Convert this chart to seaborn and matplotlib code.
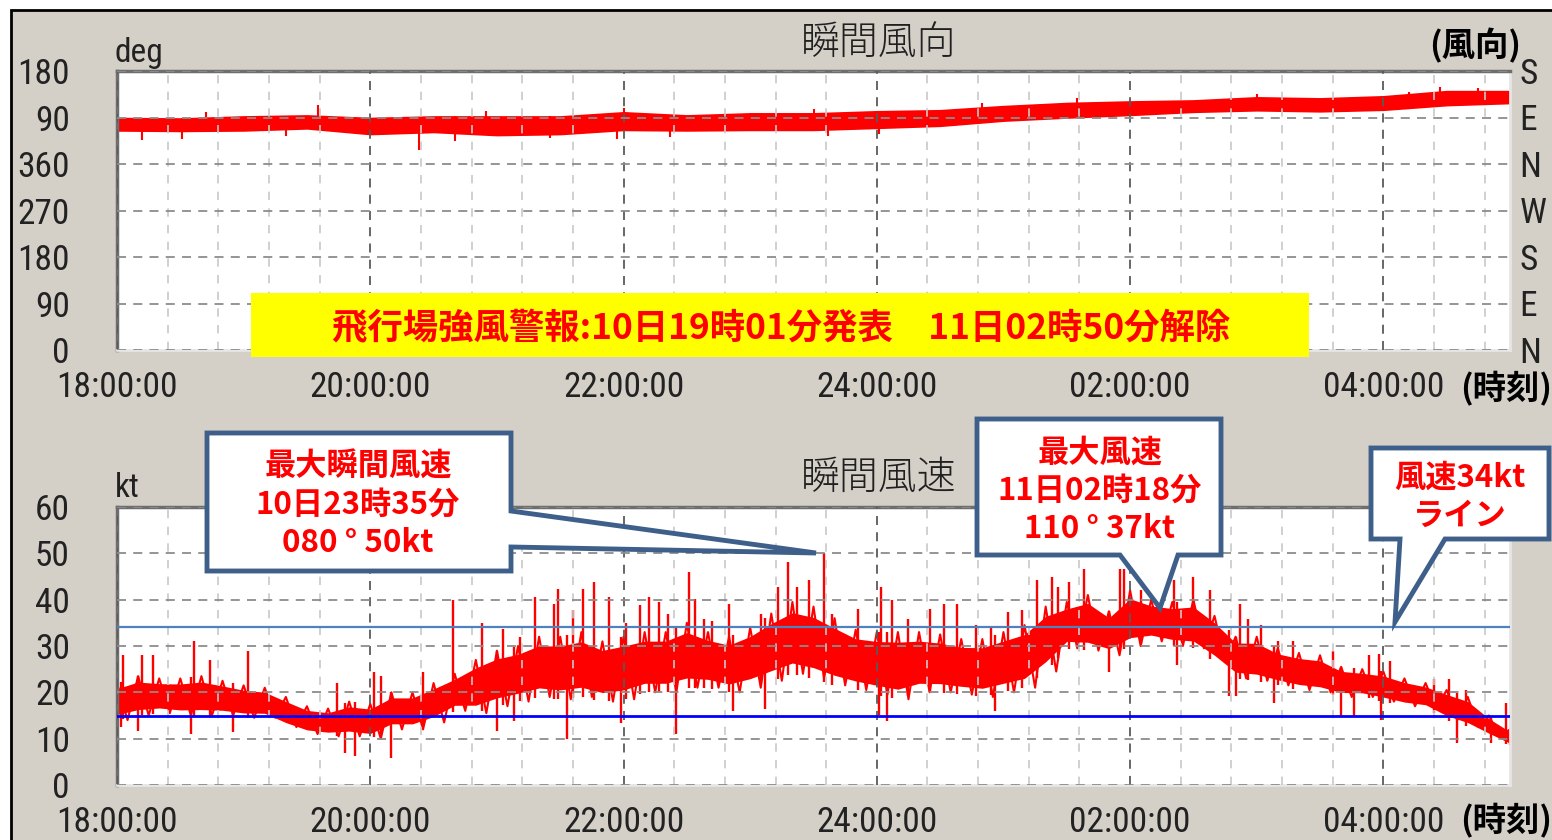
import numpy as np
import pandas as pd
import matplotlib
matplotlib.use("Agg")
import matplotlib.pyplot as plt
import seaborn as sns
from matplotlib import font_manager
from matplotlib.patches import Rectangle, Polygon

# --- data (minutes after 18:00) ---
t_grid = list(range(0, 661, 10))
speed_hi = [22, 23.5, 23, 23, 23.5, 22.5, 21.5, 21, 19, 17, 16.5, 18, 17.5, 20, 20, 22, 24,
            27, 29, 30, 32, 32, 33, 31, 32, 33, 33, 35, 33, 32, 34, 37, 39.5, 38.5,
            36, 33.5, 33, 33, 33, 32.5, 31.5, 31.5, 33, 34.5, 38.5, 39.5, 41, 37.5, 42, 40, 39.5,
            40, 36.5, 32, 32, 29.5, 28.5, 28, 25.5, 25, 24.5, 23, 22, 20.5, 19, 15, 12]
speed_lo = [14, 15, 15.5, 15, 15, 15, 14.5, 14.5, 12.5, 11, 10.5, 10.5, 10, 12, 12, 13.5, 16,
            15.5, 17, 18, 19, 18.5, 19, 18, 18.5, 20, 20, 21, 21, 20, 21, 22.5, 24, 23,
            21.5, 20.5, 19.5, 18.5, 20, 20, 19.5, 19, 20, 21, 24.5, 29.5, 29, 28, 30, 31, 30,
            29.5, 26.5, 23, 22.5, 21.5, 20.5, 20, 19, 19, 18, 17, 16.5, 14, 12.5, 10.5, 8.5]
gust_t = [3, 12, 17, 36.5, 44, 62, 104, 122, 125, 145, 159, 173, 183, 191, 198, 207, 209, 216,
          221, 226, 233, 241, 248, 252, 257, 261, 271, 274, 278, 282, 290, 305, 313, 318, 322,
          328, 335, 339, 351, 362, 367, 375, 385, 392, 398, 407, 414, 422, 429, 436, 443, 446,
          451, 458, 475, 477, 485, 501, 510, 518, 532, 536, 542, 550, 557, 576, 593, 598, 603,
          624, 631, 639, 658]
gust_v = [28, 28, 28, 31, 27, 29, 22, 24.3, 23.5, 24.3, 40, 35, 33.7, 32, 40.6, 39, 42.4, 37.7,
          42.4, 43.8, 40.6, 35, 38.8, 40.6, 39.5, 37, 46, 40.2, 35.9, 35.5, 39, 37, 42.8, 48.2,
          42.8, 44.2, 50, 37, 38, 42.8, 39.9, 35.9, 38, 39, 39, 34.5, 34.4, 37.3, 37.7, 44.2, 45,
          42.8, 43.8, 46.7, 46.7, 46.7, 42, 44.2, 45, 42, 39, 35.9, 34.5, 31, 31, 29, 28, 28.2,
          26.8, 22.8, 22.8, 20.6, 17.8]
lull_t = [2, 10, 35, 55, 108, 113, 130, 180, 188, 213, 239, 265, 292, 307, 361, 365, 416, 470,
          502, 527, 530, 548, 580, 586, 599, 635, 651, 660]
lull_v = [12.5, 11.6, 11, 11.5, 7, 6.2, 5.8, 11.6, 13.8, 10, 13.4, 10.9, 16, 16.5, 15.2, 13.8,
          16, 24.3, 26, 19.2, 19.2, 17.8, 14.9, 14.9, 14, 9, 9, 8.7]

dir_t = list(range(0, 661, 30))
dir_hi = [89, 88, 92, 94, 89, 92, 92, 92, 100, 94, 98, 98, 102, 104, 112, 118, 121, 123, 129,
          127, 131, 141, 141]
dir_lo = [65, 64, 65, 69, 58, 62, 56, 58, 66, 65, 66, 66, 70, 74, 84, 90, 95, 101, 104, 102,
          105, 114, 118]
dir_dn_t = [12, 31, 80, 143, 160, 205, 237, 262, 337, 361]
dir_dn_v = [47, 48, 55, 27, 44, 50, 48, 52, 55, 58]
dir_up_t = [42, 95, 175, 240, 330, 410, 455, 540, 612, 627, 645]
dir_up_v = [100, 114, 102, 108, 106, 118, 127, 136, 140, 150, 148]

speed_ticks = [0, 10, 20, 30, 40, 50, 60]
dir_ticks = [0, 90, 180, 270, 360, 450, 540]
dir_tick_labels = ["0", "90", "180", "270", "360", "90", "180"]
compass_labels = ["N", "E", "S", "W", "N", "E", "S"]
time_ticks = [0, 120, 240, 360, 480, 600]
time_labels = ["18:00:00", "20:00:00", "22:00:00", "24:00:00", "02:00:00", "04:00:00"]
line_34 = 34
line_15 = 15
dir_wrap = 360  # directions drawn on the upper lap of the 0-540 scale

# --- style ---
sns.set_style("white")
ttf = font_manager.fontManager.ttflist
names = {f.name for f in ttf}
tick_font, tick_size, tick_stretch = "DejaVu Sans", 20, "normal"
for cand in ("Liberation Sans Narrow", "Roboto Condensed", "Open Sans Condensed"):
    if cand in names:
        tick_font, tick_size = cand, 25.5
        break
else:
    if any(f.name == "DejaVu Sans" and "Condensed" in f.fname and "Bold" not in f.fname
           and "Oblique" not in f.fname for f in ttf):
        tick_size, tick_stretch = 23, "condensed"
plt.rcParams["font.family"] = [tick_font, "Noto Sans CJK JP", "DejaVu Sans"]
plt.rcParams["font.stretch"] = tick_stretch
CJK = ["Noto Sans CJK JP", "DejaVu Sans"]

W, H = 1552, 840
BG = "#d4d0c8"
RED = "#ff0000"
fig = plt.figure(figsize=(W / 100, H / 100), dpi=100, facecolor="white")
fig.add_artist(Rectangle((11 / W, -0.05), 1.1, 1.05 - 10 / H, transform=fig.transFigure,
                         facecolor=BG, edgecolor="black", lw=2, zorder=-10))


def px_axes(left, top, right, bottom):
    return fig.add_axes([left / W, 1 - bottom / H, (right - left) / W, (bottom - top) / H])


def fx(x):
    return x / W


def fy(y):
    return 1 - y / H


def style_axes(ax, yticks, ylabels):
    ax.set_facecolor("white")
    ax.set_xlim(0, 660)
    ax.set_ylim(yticks[0], yticks[-1])
    ax.set_xticks(time_ticks)
    ax.set_xticklabels(time_labels)
    ax.set_xticks([m for m in range(0, 661, 24) if m % 120], minor=True)
    ax.set_yticks(yticks)
    ax.set_yticklabels(ylabels)
    ax.set_axisbelow(False)
    ax.grid(axis="y", which="major", color="#8c8c8c", ls=(0, (5, 4)), lw=1.3)
    ax.grid(axis="x", which="minor", color="#c8c8c8", ls=(0, (5, 5)), lw=1.2)
    ax.grid(axis="x", which="major", color="#5a5a5a", ls=(0, (5, 4)), lw=1.3)
    ax.tick_params(axis="x", which="minor", length=0)
    ax.tick_params(axis="x", which="major", length=15, width=1.5, color="#303030",
                   pad=0, labelsize=tick_size, labelcolor="#222222")
    ax.tick_params(axis="y", length=13, width=1.5, color="#202020", pad=21,
                   labelsize=tick_size, labelcolor="#222222")
    for s in ("top", "left"):
        ax.spines[s].set_color("#6e6e6e")
        ax.spines[s].set_linewidth(2.5)
    for s in ("bottom", "right"):
        ax.spines[s].set_color("#e6e6e6")
        ax.spines[s].set_linewidth(2)
    ax.set_xlabel("")
    ax.set_ylabel("")


# --- upper: direction ---
ax1 = px_axes(117, 71, 1510, 350)
d_lo = np.array(dir_lo) + dir_wrap
d_hi = np.array(dir_hi) + dir_wrap
ax1.fill_between(dir_t, d_lo, d_hi, color=RED, lw=1.2, edgecolor=RED)
ax1.vlines(dir_dn_t, np.array(dir_dn_v) + dir_wrap, np.interp(dir_dn_t, dir_t, d_hi),
           color=RED, lw=1.5)
ax1.vlines(dir_up_t, np.interp(dir_up_t, dir_t, d_lo), np.array(dir_up_v) + dir_wrap,
           color=RED, lw=1.5)
style_axes(ax1, dir_ticks, dir_tick_labels)
sec = ax1.secondary_yaxis("right")
sec.set_yticks(dir_ticks)
sec.set_yticklabels(compass_labels)
sec.tick_params(length=0, pad=7, labelsize=tick_size, labelcolor="#222222")
sec.spines["right"].set_visible(False)

# --- lower: speed ---
ax2 = px_axes(117, 507, 1510, 785)
hi = np.array(speed_hi, dtype=float)
lo = np.array(speed_lo, dtype=float)
span = hi - lo
# solid core of the trace, then the sawtooth through the read highs and lows
ax2.fill_between(t_grid, lo + 0.15 * span, hi - 0.15 * span, color=RED, lw=0)
zig = pd.DataFrame({
    "t": np.ravel(np.column_stack([t_grid, np.array(t_grid) + 5])),
    "kt": np.ravel(np.column_stack([hi, lo])),
})
sns.lineplot(data=zig, x="t", y="kt", estimator=None, sort=False, color=RED, lw=1.5, ax=ax2)
ax2.vlines(gust_t, np.interp(gust_t, t_grid, lo), gust_v, color=RED, lw=1.7)
ax2.vlines(lull_t, lull_v, np.interp(lull_t, t_grid, hi), color=RED, lw=1.7)
ax2.axhline(line_34, color="#4f81bd", lw=1.6, zorder=3)
ax2.axhline(line_15, color="#0000ff", lw=2, zorder=3)
style_axes(ax2, speed_ticks, [str(v) for v in speed_ticks])

# --- texts ---
fig.text(fx(879), fy(43), "瞬間風向", ha="center", va="center", fontsize=28,
         family=CJK, weight="light", color="#202020")
fig.text(fx(879), fy(478), "瞬間風速", ha="center", va="center", fontsize=28,
         family=CJK, weight="light", color="#202020")
fig.text(fx(115), fy(53), "deg", ha="left", va="center", fontsize=24, color="#222222")
fig.text(fx(115), fy(488), "kt", ha="left", va="center", fontsize=24, color="#222222")
fig.text(fx(1521), fy(46), "(風向)", ha="right", va="center", fontsize=24, weight="bold",
         family=CJK, color="black")
for y in (389, 821):
    fig.text(fx(1552), fy(y), "(時刻)", ha="right", va="center", fontsize=24, weight="bold",
             family=CJK, color="black")

# warning banner
fig.add_artist(Rectangle((fx(251), fy(357)), (1309 - 251) / W, (357 - 293) / H,
                         transform=fig.transFigure, facecolor="#ffff00", lw=0, zorder=4))
fig.text(fx(781), fy(329), "飛行場強風警報:10日19時01分発表　11日02時50分解除", ha="center",
         va="center", fontsize=25.5, weight="bold", color=RED, family=CJK, zorder=6)

# callouts
callouts = [
    ([(207, 433), (511, 433), (511, 511), (816, 553), (511, 547), (511, 571), (207, 571)],
     (358, 505), "最大瞬間風速\n10日23時35分\n080 ° 50kt"),
    ([(977, 419), (1221, 419), (1221, 555), (1178, 555), (1160, 608), (1120, 555), (977, 555)],
     (1100, 491), "最大風速\n11日02時18分\n110 ° 37kt"),
    ([(1371, 448), (1549, 448), (1549, 539), (1445, 539), (1395, 622), (1400, 539), (1371, 539)],
     (1460, 497), "風速34kt\nライン"),
]
for verts, (cx, cy), label in callouts:
    fig.add_artist(Polygon([(fx(x), fy(y)) for x, y in verts], closed=True,
                           transform=fig.transFigure, facecolor="white",
                           edgecolor="#3e5f8a", lw=3.5, joinstyle="miter", zorder=5))
    fig.text(fx(cx), fy(cy), label, ha="center", va="center", fontsize=22.5, weight="bold",
             color=RED, family=CJK, linespacing=1.25, zorder=6)

fig.savefig("out.png", dpi=100, facecolor=fig.get_facecolor())
